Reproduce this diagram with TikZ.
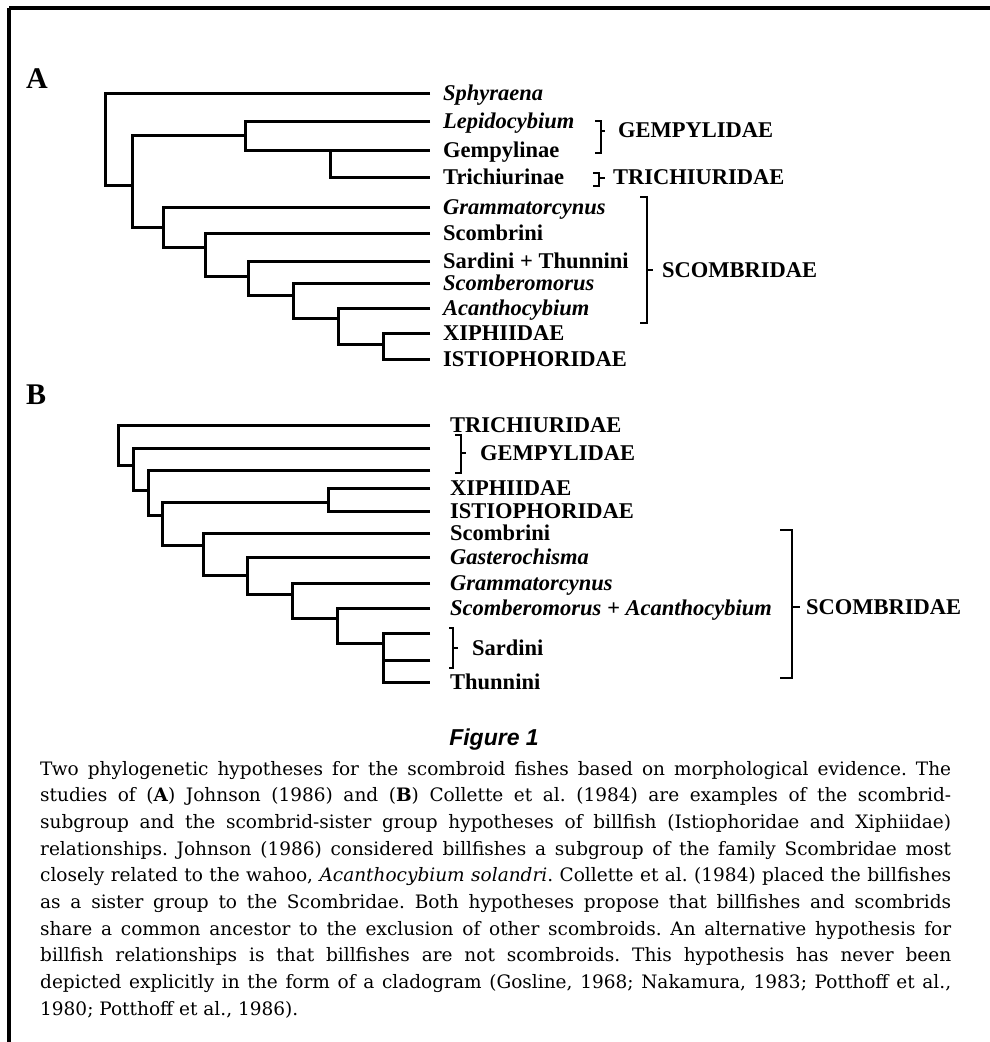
\documentclass[tikz,border=0pt]{standalone}
\usepackage{fontspec}
\setmainfont{Liberation Serif}
\newfontfamily\figfont{Liberation Sans}
\newfontfamily\capfont{DejaVu Serif}
\newcommand{\capline}[1]{\makebox[911pt][s]{#1}}
\frenchspacing
\begin{document}
\begin{tikzpicture}[x=1pt,y=-1pt,
  tree/.style={line width=3pt},
  brk/.style={line width=2.8pt},
  frame/.style={line width=3.2pt},
  leaf/.style={anchor=base west, inner sep=0pt, font=\fontsize{22.5}{24}\selectfont\bfseries},
  leafi/.style={leaf, font=\fontsize{22.5}{24}\selectfont\bfseries\itshape},
  panel/.style={anchor=base west, inner sep=0pt, font=\fontsize{30}{32}\selectfont\bfseries},
  capl/.style={anchor=base west, inner sep=0pt, font=\capfont\fontsize{18.5}{20}\selectfont\frenchspacing}
]
\useasboundingbox (0,0) rectangle (990,1042);
% frame
\draw[frame] (9,8) -- (990,8);
\draw[frame] (9,8) -- (9,1042);

% ---------------- Tree A ----------------
\node[panel] (pA) at (26,88) {A};
\foreach \n/\y in {Sph/93,Lep/121,Gem/150,Tri/177,Gra/207,Sco/233,Sar/261,Scm/283,Aca/308,Xip/333,Ist/359}
  \coordinate (t\n) at (430,\y);
\node[leafi] (lSph) at (443,100.5) {Sphyraena};
\node[leafi] (lLep) at (443,128.5) {Lepidocybium};
\node[leaf]  (lGem) at (443,157.5) {Gempylinae};
\node[leaf]  (lTri) at (443,184.5) {Trichiurinae};
\node[leafi] (lGra) at (443,214.5) {Grammatorcynus};
\node[leaf]  (lSco) at (443,240.5) {Scombrini};
\node[leaf]  (lSar) at (443,268.5) {Sardini + Thunnini};
\node[leafi] (lScm) at (443,290.5) {Scomberomorus};
\node[leafi] (lAca) at (443,315.5) {Acanthocybium};
\node[leaf]  (lXip) at (443,340.5) {XIPHIIDAE};
\node[leaf]  (lIst) at (443,366.5) {ISTIOPHORIDAE};

\coordinate (r1) at (105,140);
\coordinate (n2) at (132,185);
\coordinate (n3) at (245,135);
\coordinate (n4) at (330,150);
\coordinate (n5) at (163,227);
\coordinate (n6) at (205,247);
\coordinate (n7) at (248,276);
\coordinate (n8) at (293,295);
\coordinate (n9) at (338,318);
\coordinate (n10) at (383,344);
\draw[tree] (tSph) -| (r1) |- (n2);
\draw[tree] (n3) -| (n2) |- (n5);
\draw[tree] (tLep) -| (n3) |- (n4);
\draw[tree] (n4) -- (tGem);
\draw[tree] (n4) |- (tTri);
\draw[tree] (tGra) -| (n5) |- (n6);
\draw[tree] (tSco) -| (n6) |- (n7);
\draw[tree] (tSar) -| (n7) |- (n8);
\draw[tree] (tScm) -| (n8) |- (n9);
\draw[tree] (tAca) -| (n9) |- (n10);
\draw[tree] (tXip) -| (n10) |- (tIst);

% brackets A
\node[leaf] (gGemA) at (618,137.5) {GEMPYLIDAE};
\draw[brk] (595,121) -- (601,121) -- (601,153) -- (595,153);
\draw[brk] (601,131) -- (605,131);
\node[leaf] (gTriA) at (613,184.5) {TRICHIURIDAE};
\draw[brk] (593,173) -- (599,173) -- (599,186) -- (593,186);
\draw[brk] (599,178) -- (605,178);
\node[leaf] (gScoA) at (662,277) {SCOMBRIDAE};
\draw[brk] (640,197) -- (647,197) -- (647,323) -- (640,323);
\draw[brk] (647,270) -- (653,270);

% ---------------- Tree B ----------------
\node[panel] (pB) at (26,404) {B};
\foreach \n/\y in {TriB/425,GeA/448,GeB/470,XipB/488,IstB/511,ScoB/533,Gas/557,GraB/583,ScA/608,SaA/633,SaB/660,Thu/682}
  \coordinate (t\n) at (430,\y);
\node[leaf]  (lTriB) at (450,432.5) {TRICHIURIDAE};
\node[leaf]  (lXipB) at (450,495.5) {XIPHIIDAE};
\node[leaf]  (lIstB) at (450,518.5) {ISTIOPHORIDAE};
\node[leaf]  (lScoB) at (450,540.5) {Scombrini};
\node[leafi] (lGas)  at (450,564.5) {Gasterochisma};
\node[leafi] (lGraB) at (450,590.5) {Grammatorcynus};
\node[leafi] (lScA)  at (450,615.5) {Scomberomorus + Acanthocybium};
\node[leaf]  (lThu)  at (450,689.5) {Thunnini};

\coordinate (b1) at (118,440);
\coordinate (b2) at (133,465);
\coordinate (b3) at (148,490);
\coordinate (b4) at (162,515);
\coordinate (b5) at (328,502);
\coordinate (b6) at (203,545);
\coordinate (b7) at (247,575);
\coordinate (b8) at (292,594);
\coordinate (b9) at (337,618);
\coordinate (b10) at (383,643);
\draw[tree] (tTriB) -| (b1) |- (b2);
\draw[tree] (tGeA) -| (b2) |- (b3);
\draw[tree] (tGeB) -| (b3) |- (b4);
\draw[tree] (b5) -| (b4) |- (b6);
\draw[tree] (tXipB) -| (b5) |- (tIstB);
\draw[tree] (tScoB) -| (b6) |- (b7);
\draw[tree] (tGas) -| (b7) |- (b8);
\draw[tree] (tGraB) -| (b8) |- (b9);
\draw[tree] (tScA) -| (b9) |- (b10);
\draw[tree] (tSaA) -| (b10) |- (tThu);
\draw[tree] (tSaB) -| (b10);

% brackets B
\node[leaf] (gGemB) at (480,460) {GEMPYLIDAE};
\draw[brk] (455,435) -- (461,435) -- (461,473) -- (455,473);
\draw[brk] (461,453) -- (466,453);
\node[leaf] (gSar) at (472,655) {Sardini};
\draw[brk] (449,628) -- (453,628) -- (453,668) -- (449,668);
\draw[brk] (453,648) -- (458,648);
\node[leaf] (gScoB) at (806,614) {SCOMBRIDAE};
\draw[brk] (780,530) -- (792,530) -- (792,678) -- (780,678);
\draw[brk] (792,607) -- (800,607);

% ---------------- caption ----------------
\node[anchor=base, inner sep=0pt, font=\figfont\fontsize{23}{25}\selectfont\bfseries\itshape] (fig) at (494,745) {Figure 1};
\node[capl] (c1) at (40,775) {\capline{Two phylogenetic hypotheses for the scombroid fishes based on morphological evidence. The}};
\node[capl] (c2) at (40,801.7) {\capline{studies of (\textbf{A}) Johnson (1986) and (\textbf{B}) Collette et al. (1984) are examples of the scombrid-}};
\node[capl] (c3) at (40,828.4) {\capline{subgroup and the scombrid-sister group hypotheses of billfish (Istiophoridae and Xiphiidae)}};
\node[capl] (c4) at (40,855.1) {\capline{relationships. Johnson (1986) considered billfishes a subgroup of the family Scombridae most}};
\node[capl] (c5) at (40,881.8) {\capline{closely related to the wahoo, \textit{Acanthocybium solandri}. Collette et al. (1984) placed the billfishes}};
\node[capl] (c6) at (40,908.5) {\capline{as a sister group to the Scombridae. Both hypotheses propose that billfishes and scombrids}};
\node[capl] (c7) at (40,935.2) {\capline{share a common ancestor to the exclusion of other scombroids. An alternative hypothesis for}};
\node[capl] (c8) at (40,961.9) {\capline{billfish relationships is that billfishes are not scombroids. This hypothesis has never been}};
\node[capl] (c9) at (40,988.6) {\capline{depicted explicitly in the form of a cladogram (Gosline, 1968; Nakamura, 1983; Potthoff et al.,}};
\node[capl] (c10) at (40,1015.3) {1980; Potthoff et al., 1986).};
\end{tikzpicture}
\end{document}
